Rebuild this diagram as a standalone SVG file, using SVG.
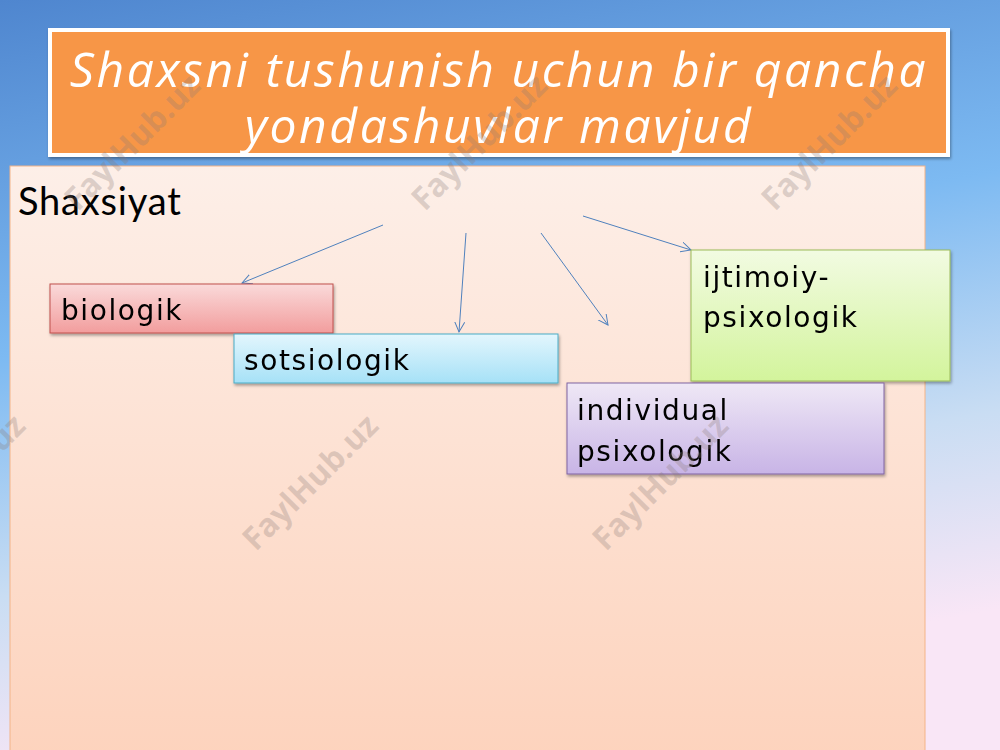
<svg xmlns="http://www.w3.org/2000/svg" width="1000" height="750" viewBox="0 0 1000 750">
<defs>
<linearGradient id="bg" x1="0" y1="0" x2="0.25" y2="1">
<stop offset="0" stop-color="#4f86cf"/>
<stop offset="0.45" stop-color="#7dbaf2"/>
<stop offset="0.75" stop-color="#c9ddf3"/>
<stop offset="1" stop-color="#f9e6f6"/>
</linearGradient>
<linearGradient id="panel" x1="0" y1="0" x2="0" y2="1">
<stop offset="0" stop-color="#fdefe8"/>
<stop offset="1" stop-color="#fdd3bd"/>
</linearGradient>
<linearGradient id="gPink" x1="0" y1="0" x2="0" y2="1">
<stop offset="0" stop-color="#fadada"/>
<stop offset="1" stop-color="#f29d9d"/>
</linearGradient>
<linearGradient id="gBlue" x1="0" y1="0" x2="0" y2="1">
<stop offset="0" stop-color="#e3f6fd"/>
<stop offset="1" stop-color="#a6e1f7"/>
</linearGradient>
<linearGradient id="gGreen" x1="0" y1="0" x2="0" y2="1">
<stop offset="0" stop-color="#f2fbe2"/>
<stop offset="1" stop-color="#d3f49c"/>
</linearGradient>
<linearGradient id="gPurple" x1="0" y1="0" x2="0" y2="1">
<stop offset="0" stop-color="#efe8f6"/>
<stop offset="1" stop-color="#c8b4e6"/>
</linearGradient>
<filter id="sh" x="-5%" y="-10%" width="110%" height="130%">
<feDropShadow dx="1" dy="2" stdDeviation="1.5" flood-color="#000" flood-opacity="0.35"/>
</filter>
<marker id="arr" markerWidth="12" markerHeight="12" refX="10" refY="5" orient="auto" markerUnits="userSpaceOnUse">
<path d="M0,0 L10,5 L0,10" fill="none" stroke="#4f81bd" stroke-width="1"/>
</marker>
<style>
.lbl{font-family:"DejaVu Sans","Noto Sans",sans-serif;font-size:28px;fill:#000;letter-spacing:1.6px}
.ttl{font-family:"Open Sans","Noto Sans",sans-serif;font-style:italic;font-size:48px;fill:#ffffff;letter-spacing:2.6px}
.wm{font-family:"Open Sans","Liberation Sans",sans-serif;font-weight:bold;font-size:32px;fill:#8a7a76;fill-opacity:0.28}
.con{stroke:#4f81bd;stroke-width:1;fill:none;marker-end:url(#arr)}
</style>
</defs>
<rect width="1000" height="750" fill="url(#bg)"/>
<g id="title" filter="url(#sh)">
<rect x="50" y="30" width="898" height="125" fill="#f79646" stroke="#ffffff" stroke-width="4"/>
<text class="ttl" x="499" y="87" text-anchor="middle">Shaxsni tushunish uchun bir qancha</text>
<text class="ttl" x="499" y="143" text-anchor="middle">yondashuvlar mavjud</text>
</g>
<g id="panel">
<rect x="10" y="166" width="915" height="590" fill="url(#panel)" stroke="#f4b487" stroke-width="1"/>
<text x="18" y="215" font-family="Lato, Open Sans, sans-serif" font-size="38" letter-spacing="0.8" fill="#000">Shaxsiyat</text>
</g>
<g id="connectors">
<line class="con" x1="383" y1="225" x2="242" y2="283"/>
<line class="con" x1="466" y1="233" x2="459" y2="332"/>
<line class="con" x1="541" y1="233" x2="608" y2="325"/>
<line class="con" x1="583" y1="216" x2="691" y2="250"/>
</g>
<g id="biologik" filter="url(#sh)">
<rect x="50" y="284" width="283" height="49" fill="url(#gPink)" stroke="#c0504d" stroke-width="1"/>
<text class="lbl" x="61" y="320">biologik</text>
</g>
<g id="sotsiologik" filter="url(#sh)">
<rect x="234" y="334" width="324" height="49" fill="url(#gBlue)" stroke="#4bacc6" stroke-width="1"/>
<text class="lbl" x="244" y="370">sotsiologik</text>
</g>
<g id="ijtimoiy" filter="url(#sh)">
<rect x="691" y="250" width="259" height="131" fill="url(#gGreen)" stroke="#9bbb59" stroke-width="1"/>
<text class="lbl" x="703" y="287">ijtimoiy-</text>
<text class="lbl" x="703" y="327">psixologik</text>
</g>
<g id="individual" filter="url(#sh)">
<rect x="567" y="383" width="317" height="91" fill="url(#gPurple)" stroke="#8064a2" stroke-width="1"/>
<text class="lbl" x="577" y="420">individual</text>
<text class="lbl" x="577" y="461">psixologik</text>
</g>
<g id="watermarks">
<text class="wm" transform="translate(140,150) rotate(-45)" text-anchor="middle">FaylHub.uz</text>
<text class="wm" transform="translate(487,150) rotate(-45)" text-anchor="middle">FaylHub.uz</text>
<text class="wm" transform="translate(837,150) rotate(-45)" text-anchor="middle">FaylHub.uz</text>
<text class="wm" transform="translate(-35,490) rotate(-45)" text-anchor="middle">FaylHub.uz</text>
<text class="wm" transform="translate(318,490) rotate(-45)" text-anchor="middle">FaylHub.uz</text>
<text class="wm" transform="translate(668,490) rotate(-45)" text-anchor="middle">FaylHub.uz</text>
</g>
</svg>
